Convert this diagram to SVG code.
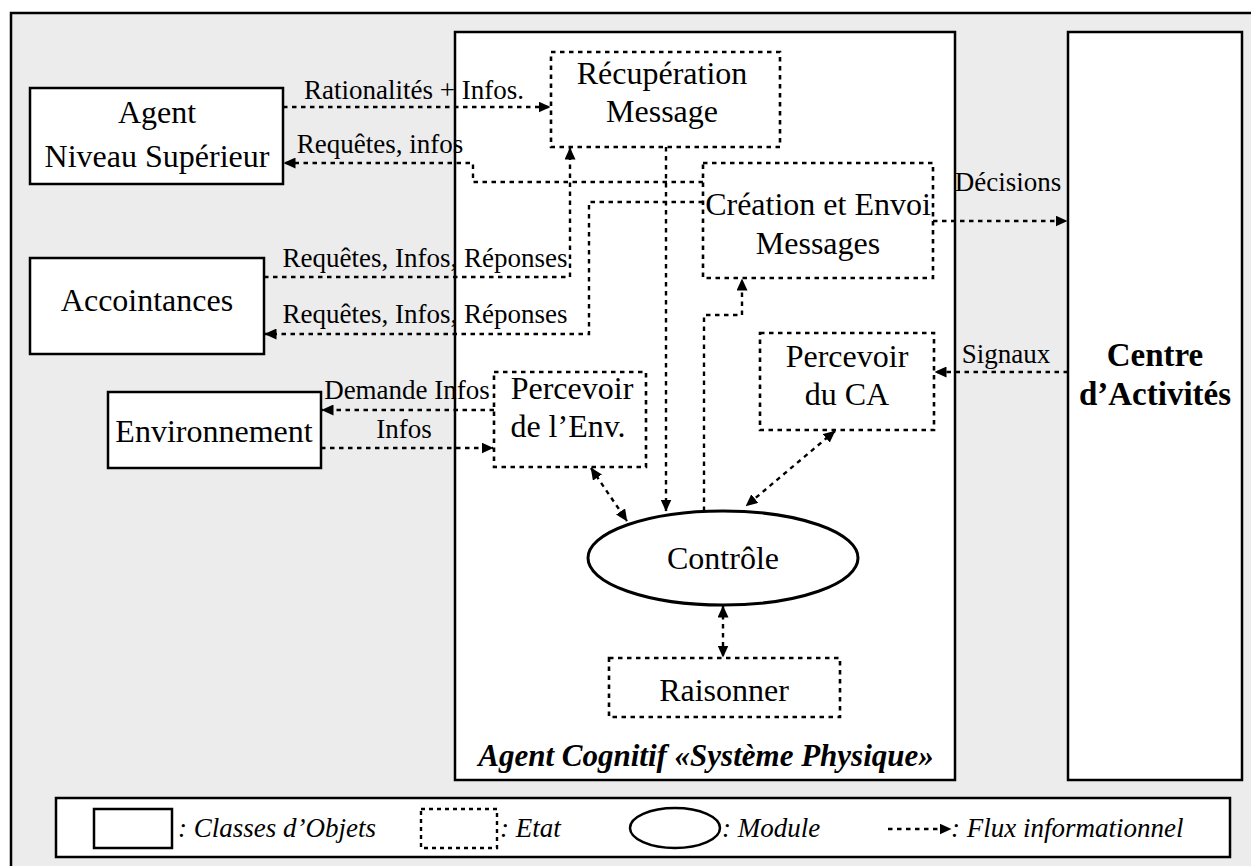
<svg xmlns="http://www.w3.org/2000/svg" width="1251" height="866" viewBox="0 0 1251 866">
<style>
.box{fill:#fff;stroke:#000;stroke-width:2.5}
.st{fill:#fff;stroke:#000;stroke-width:2.6;stroke-dasharray:4.5 4.5}
.cn{fill:none;stroke:#000;stroke-width:2.4;stroke-dasharray:4.5 4.5}
.t{font-family:"Liberation Serif","Times New Roman",serif;font-size:32px;fill:#000;text-anchor:middle}
.l{font-family:"Liberation Serif","Times New Roman",serif;font-size:27px;fill:#000;text-anchor:middle}
.b{font-family:"Liberation Serif","Times New Roman",serif;font-size:33px;font-weight:bold;fill:#000;text-anchor:middle}
.bi{font-family:"Liberation Serif","Times New Roman",serif;font-size:31px;font-weight:bold;font-style:italic;fill:#000;text-anchor:middle}
.i{font-family:"Liberation Serif","Times New Roman",serif;font-size:27px;font-style:italic;fill:#000}
</style>
<defs>
<marker id="ar" markerUnits="userSpaceOnUse" markerWidth="12" markerHeight="11" viewBox="0 0 12 11" refX="11.5" refY="5.5" orient="auto-start-reverse">
<path d="M0,0 L12,5.5 L0,11 Z" fill="#000"/>
</marker>
</defs>
<rect x="0" y="0" width="1251" height="866" fill="#fff"/>
<rect x="11" y="13" width="1250" height="870" fill="#ececec" stroke="#000" stroke-width="2.5"/>

<g id="agent-cognitif">
<rect class="box" x="455" y="32" width="500" height="748"/>
<text class="bi" x="706" y="766">Agent Cognitif  «Système Physique»</text>
</g>
<g id="centre-activites">
<rect class="box" x="1068" y="32" width="174" height="748"/>
<text class="b" x="1155" y="366">Centre</text>
<text class="b" x="1155" y="405">d’Activités</text>
</g>
<g id="agent-niveau-superieur">
<rect class="box" x="30" y="88" width="253" height="96"/>
<text class="t" x="157" y="123">Agent</text>
<text class="t" x="157" y="167">Niveau Supérieur</text>
</g>
<g id="accointances">
<rect class="box" x="30" y="258" width="234" height="96"/>
<text class="t" x="147" y="311">Accointances</text>
</g>
<g id="environnement">
<rect class="box" x="108" y="392" width="213" height="76"/>
<text class="t" x="214" y="442">Environnement</text>
</g>
<g id="recuperation-message">
<rect class="st" x="551" y="52" width="229" height="95"/>
<text class="t" x="662" y="84">Récupération</text>
<text class="t" x="662" y="122">Message</text>
</g>
<g id="creation-envoi">
<rect class="st" x="703" y="163" width="230" height="115"/>
<text class="t" x="818" y="215">Création et Envoi</text>
<text class="t" x="818" y="254">Messages</text>
</g>
<g id="percevoir-ca">
<rect class="st" x="760" y="333" width="174" height="97"/>
<text class="t" x="847" y="367">Percevoir</text>
<text class="t" x="847" y="405">du CA</text>
</g>
<g id="percevoir-env">
<rect class="st" x="494" y="372" width="152" height="95"/>
<text class="t" x="572" y="399">Percevoir</text>
<text class="t" x="568" y="437">de l’Env.</text>
</g>
<g id="controle">
<ellipse cx="723" cy="558" rx="135" ry="47" fill="#fff" stroke="#000" stroke-width="3"/>
<text class="t" x="723" y="569">Contrôle</text>
</g>
<g id="raisonner">
<rect class="st" x="609" y="658" width="231" height="59"/>
<text class="t" x="724" y="701">Raisonner</text>
</g>

<g id="connectors">
<path class="cn" d="M283,107 H550" marker-end="url(#ar)"/>
<path class="cn" d="M703,182 H473 V163 H284" marker-end="url(#ar)"/>
<path class="cn" d="M264,277 H570 V148" marker-end="url(#ar)"/>
<path class="cn" d="M703,202 H589 V334 H265" marker-end="url(#ar)"/>
<path class="cn" d="M666,147 V511" marker-end="url(#ar)"/>
<path class="cn" d="M704,511 V315 H742 V279" marker-end="url(#ar)"/>
<path class="cn" d="M933,221 H1067" marker-end="url(#ar)"/>
<path class="cn" d="M1068,372 H935" marker-end="url(#ar)"/>
<path class="cn" d="M835,431 L746,506" marker-start="url(#ar)" marker-end="url(#ar)"/>
<path class="cn" d="M591,468 L627,521" marker-start="url(#ar)" marker-end="url(#ar)"/>
<path class="cn" d="M723,606 V657" marker-start="url(#ar)" marker-end="url(#ar)"/>
<path class="cn" d="M494,410 H322" marker-end="url(#ar)"/>
<path class="cn" d="M321,448 H493" marker-end="url(#ar)"/>
<text class="l" x="414" y="99">Rationalités + Infos.</text>
<text class="l" x="380" y="153">Requêtes, infos</text>
<text class="l" x="425" y="267">Requêtes, Infos, Réponses</text>
<text class="l" x="425" y="323">Requêtes, Infos, Réponses</text>
<text class="l" x="1008" y="191">Décisions</text>
<text class="l" x="1006" y="363">Signaux</text>
<text class="l" x="407" y="399">Demande Infos</text>
<text class="l" x="404" y="438">Infos</text>
</g>

<g id="legend">
<rect x="56" y="798" width="1174" height="59" fill="#fff" stroke="#000" stroke-width="2.5"/>
<rect x="94" y="809" width="78" height="39" fill="#fff" stroke="#000" stroke-width="2.5"/>
<text class="i" x="178" y="837">: Classes d’Objets</text>
<rect x="421" y="809" width="76" height="39" fill="#fff" stroke="#000" stroke-width="2.4" stroke-dasharray="4 4"/>
<text class="i" x="500" y="837">: Etat</text>
<ellipse cx="675" cy="828" rx="45" ry="20" fill="#fff" stroke="#000" stroke-width="2.5"/>
<text class="i" x="722" y="837">: Module</text>
<path class="cn" d="M888,829 H951" marker-end="url(#ar)"/>
<text class="i" x="951" y="837">: Flux informationnel</text>
</g>
</svg>
